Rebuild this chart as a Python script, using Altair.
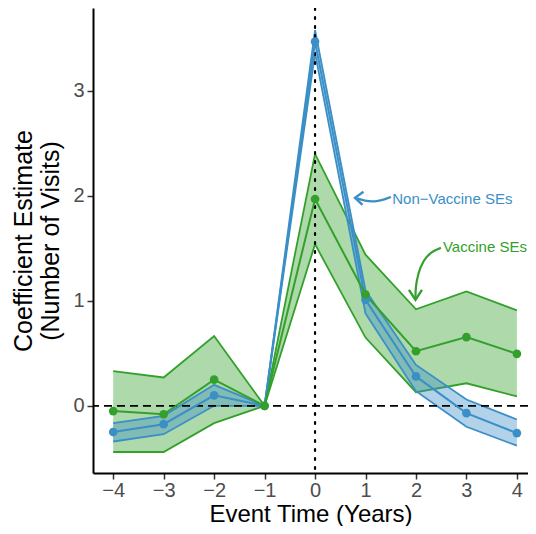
import altair as alt
import pandas as pd

# Event time
event_time = [-4, -3, -2, -1, 0, 1, 2, 3, 4]

# Non-vaccine SEs (blue)
nv_est = [-0.25, -0.175, 0.10, 0.0, 3.47, 1.01, 0.28, -0.07, -0.26]
nv_lo = [-0.34, -0.27, 0.0, 0.0, 3.36, 0.88, 0.14, -0.20, -0.38]
nv_hi = [-0.165, -0.095, 0.20, 0.0, 3.58, 1.10, 0.39, 0.06, -0.13]

# Vaccine SEs (green)
v_est = [-0.05, -0.08, 0.25, 0.0, 1.97, 1.06, 0.52, 0.655, 0.495]
v_lo = [-0.44, -0.44, -0.165, 0.0, 1.54, 0.65, 0.13, 0.215, 0.09]
v_hi = [0.33, 0.27, 0.665, 0.0, 2.40, 1.44, 0.92, 1.09, 0.91]

# Annotation arrows (data units)
nv_arrow_x = [1.505, 1.386, 1.188, 0.990, 0.792]
nv_arrow_y = [1.990, 1.967, 1.943, 1.952, 1.981]
nv_head_x = [0.960, 0.792, 0.940]
nv_head_y = [2.040, 1.981, 1.914]

v_arrow_x = [2.495, 2.297, 2.139, 2.040, 1.990, 1.990]
v_arrow_y = [1.505, 1.467, 1.381, 1.257, 1.124, 1.010]
v_head_x = [1.861, 1.990, 2.119]
v_head_y = [1.105, 1.010, 1.105]

BLUE = "#3b8fc7"
GREEN = "#33a02c"

XDOM = [-4.4, 4.22]
YDOM = [-0.64, 3.79]

nv = pd.DataFrame({"t": event_time, "est": nv_est, "lo": nv_lo, "hi": nv_hi})
vv = pd.DataFrame({"t": event_time, "est": v_est, "lo": v_lo, "hi": v_hi})

xenc = alt.X("t:Q", scale=alt.Scale(domain=XDOM, nice=False, zero=False),
             axis=alt.Axis(values=event_time, format="d", title="Event Time (Years)", grid=False,
                           titleBaseline="alphabetic", titleY=48, titleFontSize=24))
yaxis = alt.Axis(values=[0, 1, 2, 3], format="d",
                 title=["Coefficient Estimate", "(Number of Visits)"], grid=False)
yscale = alt.Scale(domain=YDOM, nice=False, zero=False)


def ribbon(df, color, opacity):
    base = alt.Chart(df)
    area = base.mark_area(color=color, opacity=opacity).encode(
        x=xenc, y=alt.Y("lo:Q", scale=yscale, axis=yaxis), y2="hi:Q")
    lo = base.mark_line(color=color, strokeWidth=1.8).encode(
        x="t:Q", y=alt.Y("lo:Q", scale=yscale))
    hi = base.mark_line(color=color, strokeWidth=1.8).encode(
        x="t:Q", y=alt.Y("hi:Q", scale=yscale))
    return area + lo + hi


def center(df, color):
    base = alt.Chart(df)
    ln = base.mark_line(color=color, strokeWidth=2).encode(
        x="t:Q", y=alt.Y("est:Q", scale=yscale))
    pt = base.mark_circle(color=color, opacity=1, size=75).encode(
        x="t:Q", y=alt.Y("est:Q", scale=yscale))
    return ln, pt


hline = alt.Chart(pd.DataFrame({"y": [0]})).mark_rule(
    color="black", strokeDash=[8, 5], strokeWidth=1.8).encode(y=alt.Y("y:Q", scale=yscale))
vline = alt.Chart(pd.DataFrame({"x": [0]})).mark_rule(
    color="black", strokeDash=[2, 7], strokeWidth=2.2, strokeCap="round").encode(
    x=alt.X("x:Q", scale=alt.Scale(domain=XDOM)))

nv_ln, nv_pt = center(nv, BLUE)
v_ln, v_pt = center(vv, GREEN)


def arrow(xs, ys, hx, hy, color):
    shaft = alt.Chart(pd.DataFrame({"x": xs, "y": ys, "o": list(range(len(xs)))})).mark_line(
        color=color, strokeWidth=2.2, interpolate="basis").encode(
        x="x:Q", y=alt.Y("y:Q", scale=yscale), order="o:Q")
    head = alt.Chart(pd.DataFrame({"x": hx, "y": hy, "o": list(range(len(hx)))})).mark_line(
        color=color, strokeWidth=2.4, strokeJoin="miter").encode(
        x="x:Q", y=alt.Y("y:Q", scale=yscale), order="o:Q")
    return shaft + head


nv_text = alt.Chart(pd.DataFrame({"x": [1.53], "y": [1.97], "s": ["Non\u2212Vaccine SEs"]})).mark_text(
    color=BLUE, align="left", baseline="middle", fontSize=15, font="Liberation Sans").encode(
    x="x:Q", y=alt.Y("y:Q", scale=yscale), text="s:N")
v_text = alt.Chart(pd.DataFrame({"x": [2.535], "y": [1.515], "s": ["Vaccine SEs"]})).mark_text(
    color=GREEN, align="left", baseline="middle", fontSize=15, font="Liberation Sans").encode(
    x="x:Q", y=alt.Y("y:Q", scale=yscale), text="s:N")

chart = alt.layer(
    ribbon(vv, GREEN, 0.4),
    ribbon(nv, BLUE, 0.4),
    hline, vline,
    nv_ln, v_ln, nv_pt, v_pt,
    arrow(nv_arrow_x, nv_arrow_y, nv_head_x, nv_head_y, BLUE),
    arrow(v_arrow_x, v_arrow_y, v_head_x, v_head_y, GREEN),
    nv_text, v_text,
).properties(
    width=435, height=465,
    autosize=alt.AutoSizeParams(type="none"),
    padding={"left": 85, "top": 0, "right": 0, "bottom": 53},
).configure_view(stroke=None).configure_axis(
    domainColor="black", domainWidth=2, tickColor="#333333", tickWidth=1.5, tickSize=6,
    labelColor="#4d4d4d", labelFontSize=20, labelFont="Liberation Sans", labelPadding=1,
    titleFont="Liberation Sans", titleFontSize=25, titleFontWeight="normal", titleColor="black",
).configure_axisY(titlePadding=9, titleLineHeight=27, labelPadding=3)

chart.save("out.html", embed_options={"renderer": "svg", "actions": False})
